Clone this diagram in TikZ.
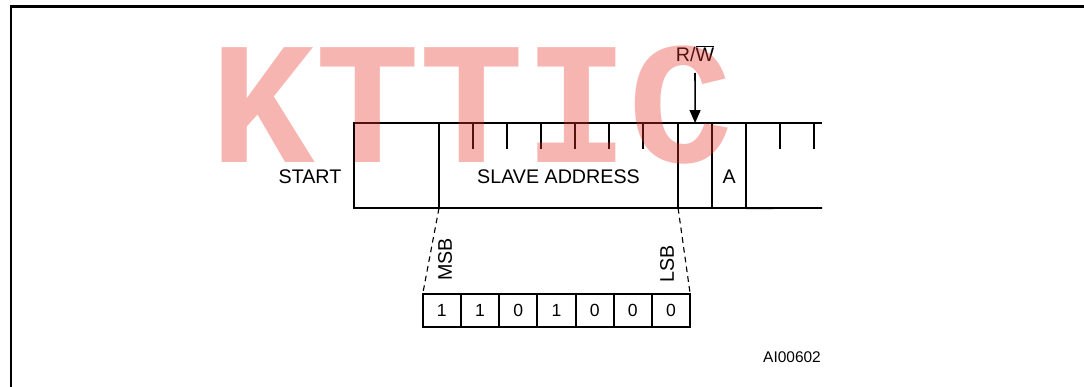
\documentclass[tikz,border=0pt]{standalone}
\usepackage{fontspec}
\setmainfont{Liberation Sans}
\newfontfamily\wmfont{Liberation Mono}
\usetikzlibrary{arrows.meta,positioning}
\definecolor{WmRed}{RGB}{230,50,38}
\tikzset{
	>={Triangle[length=3.2mm,width=2.7mm]},
	frameline/.style={black, line width=2.1pt},
	field/.style={draw, black, line width=1.4pt, inner sep=0pt, outer sep=0pt,
		minimum height=2.125cm},
	bitcell/.style={draw, black, line width=1.4pt, inner sep=0pt, outer sep=0pt,
		minimum width=0.955cm, minimum height=0.8325cm, font=\fontsize{12.5}{14}\selectfont},
	tick/.style={black, line width=1.4pt},
	leader/.style={black, line width=0.8pt, dashed, dash pattern=on 4pt off 3pt},
	labeltext/.style={inner sep=0pt, font=\fontsize{14}{16}\selectfont},
	watermark/.style={text=WmRed, text opacity=0.36, inner sep=0pt,
		font=\wmfont\bfseries\fontsize{124}{124}\selectfont},
}
\begin{document}
\begin{tikzpicture}[x=0.025cm, y=-0.025cm]
	\useasboundingbox (0,0) rectangle (1084,387);

	% Outer frame (cut by the page)
	\draw[frameline] (11,395) -- (11,6.5) -- (1095,6.5);

	% Byte frame
	\node[field, minimum width=2.125cm, anchor=north west] (start) at (354,123) {};
	\node[field, minimum width=5.975cm, right=0pt of start] (addr) {};
	\node[field, minimum width=0.85cm, right=0pt of addr] (rw) {};
	\node[field, minimum width=0.85cm, right=0pt of rw] (ack) {};
	\coordinate (openN) at (822,123);
	\coordinate (openS) at (822,208);
	\draw[tick] (ack.north east) -- (openN);
	\draw[tick] (ack.south east) -- (openS);

	% Bit ticks
	\foreach \x in {473,507,541,575,609,643,780,814}
		\draw[tick] (\x,123) -- (\x,149);

	% Labels
	\node[labeltext, anchor=base] (startlbl) at (310,183) {START};
	\node[labeltext, anchor=base] (addrlbl) at (558.5,183) {SLAVE ADDRESS};
	\node[labeltext, anchor=base] (acklbl) at (ack.center |- 0,183) {A};
	\node[labeltext, anchor=base] (rwlbl) at (695,62) {R/$\overline{\hbox{W}}$};

	% R/W arrow
	\coordinate (rwsrc) at (695,73);
	\draw[->, line width=1.1pt] (rwsrc) -- (rw.north);

	% Address bits
	\node[bitcell, anchor=north west] (b1) at (422.7,294) {1};
	\node[bitcell, right=0pt of b1] (b2) {1};
	\node[bitcell, right=0pt of b2] (b3) {0};
	\node[bitcell, right=0pt of b3] (b4) {1};
	\node[bitcell, right=0pt of b4] (b5) {0};
	\node[bitcell, right=0pt of b5] (b6) {0};
	\node[bitcell, right=0pt of b6] (b7) {0};

	% Expansion lines
	\draw[leader] (addr.south west) -- (b1.north west);
	\draw[leader] (addr.south east) -- (b7.north east);

	\node[labeltext, rotate=90, anchor=west] (msb) at (445,281) {MSB};
	\node[labeltext, rotate=90, anchor=west] (lsb) at (667,283) {LSB};

	\node[inner sep=0pt, anchor=base, font=\fontsize{11}{13}\selectfont] (fig) at (792,362.7) {AI00602};

	% Watermark, laid over the drawing
	\node[watermark, anchor=base] (wm) at (472,162) {KTTIC};
\end{tikzpicture}
\end{document}
